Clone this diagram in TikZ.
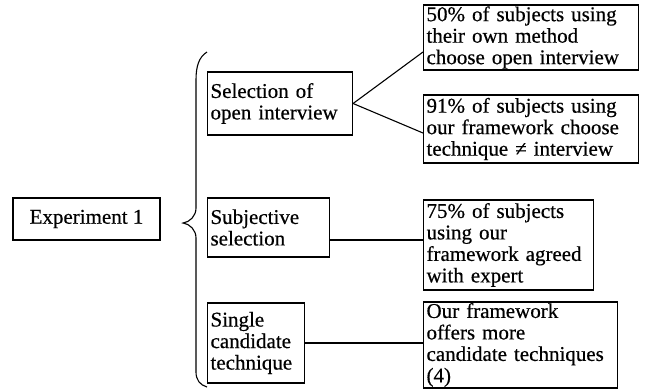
\documentclass[tikz,border=0pt]{standalone}
\usepackage{fontspec}
\setmainfont{Liberation Serif}[FakeBold=0.5]
\usetikzlibrary{calc}

\tikzset{
  box/.style={draw, line width=1.1pt, align=left, inner xsep=3pt, inner ysep=1pt,
    font=\fontsize{21}{21.5}\selectfont},
  link/.style={line width=1.1pt}
}

\begin{document}
\begin{tikzpicture}[x=1pt, y=-1pt]
\useasboundingbox (0,0) rectangle (646,389);

 %%Paramaters
%% column positions, can be modified
\def\leftCol{207}
\def\rightCol{423}

\node[box, align=center, minimum width=147pt, minimum height=42pt] at (86.5, 219) (exp) {Experiment 1};

 %% ***Findings***
\node[box, minimum width=145pt, minimum height=63pt, text width=139pt, anchor=west] at (\leftCol, 103.5) (sel) {Selection of\\open interview};
\node[box, minimum width=122pt, minimum height=59pt, text width=116pt, anchor=west] at (\leftCol, 227.5) (subj) {Subjective\\selection};
\node[box, minimum width=97pt, minimum height=80pt, text width=91pt, anchor=west] at (\leftCol, 343) (single) {Single\\candidate\\technique};

 %% ***Results***
\node[box, minimum width=215pt, minimum height=65pt, text width=209pt, anchor=west] at (\rightCol, 37.5) (res1) {50\% of subjects using\\their own method\\choose open interview};
\node[box, minimum width=215pt, minimum height=68pt, text width=209pt, anchor=west] at (\rightCol, 129) (res2) {91\% of subjects using\\our framework choose\\technique ≠ interview};
\node[box, minimum width=170pt, minimum height=90pt, text width=164pt, anchor=west] at (\rightCol, 245) (res3) {75\% of subjects\\using our\\framework agreed\\with expert};
\node[box, minimum width=194pt, minimum height=86pt, text width=188pt, anchor=west] at (\rightCol, 345) (res4) {Our framework\\offers more\\candidate techniques\\(4)};

%% brace
\draw[link] (207, 52) .. controls (199, 57) and (196, 66) .. (196, 80)
            -- (196, 208) .. controls (196, 216) and (190, 222) .. (183, 223)
            .. controls (190, 224) and (196, 230) .. (196, 238)
            -- (196, 372) .. controls (196, 380) and (200, 385) .. (207, 387);

%% connectors
\draw[link] (sel.east) -- ([yshift=-14.5pt]res1.west);
\draw[link] (sel.east) -- ([yshift=-4pt]res2.west);
\draw[link] ([yshift=-12.5pt]subj.east) -- ([yshift=-12.5pt]subj.east -| res3.west);
\draw[link] (single.east) -- (single.east -| res4.west);
\end{tikzpicture}
\end{document}
